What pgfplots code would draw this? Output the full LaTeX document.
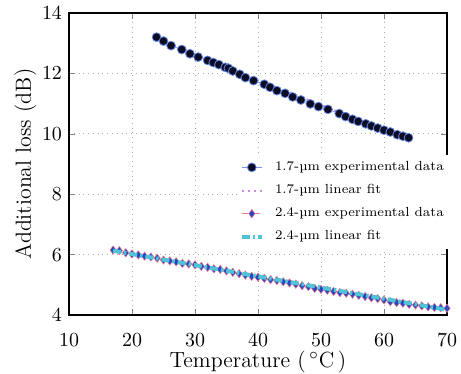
\documentclass[border=0pt]{standalone}
\usepackage{fontspec}
\usepackage{pgfplots}
\pgfplotsset{compat=1.18}
\pgfplotsset{layers/mylayers/.define layer set={axis background,axis grid,axis tick labels,pre main,main,axis descriptions,axis ticks,axis lines,axis foreground}{}}
\definecolor{c17line}{RGB}{120,150,230}
\definecolor{c17fill}{RGB}{12,12,35}
\definecolor{c17edge}{RGB}{100,135,230}
\definecolor{c17fit}{RGB}{205,140,215}
\definecolor{c24line}{RGB}{245,120,135}
\definecolor{c24fill}{RGB}{40,70,195}
\definecolor{c24fit}{RGB}{80,195,215}
\pgfplotstableread{
x y
23.9 13.20
25.0 13.07
26.2 12.92
27.9 12.79
29.2 12.65
30.5 12.54
32.0 12.43
32.9 12.36
33.8 12.29
34.8 12.20
35.3 12.17
36.0 12.08
37.1 11.97
38.0 11.86
39.3 11.76
41.0 11.64
41.9 11.54
43.0 11.43
44.3 11.34
45.5 11.22
46.8 11.12
48.3 10.99
49.6 10.90
51.1 10.81
52.9 10.67
53.9 10.57
55.0 10.48
55.9 10.41
57.1 10.33
58.0 10.26
59.0 10.19
60.0 10.12
61.0 10.06
62.1 9.97
63.0 9.92
63.9 9.87
}\dataA
\pgfplotstableread{
x y
17 6.15
18 6.13
19 6.06
20 6.02
21 5.99
22 5.95
23 5.92
24 5.88
25 5.82
26 5.79
27 5.76
28 5.71
29 5.69
30 5.66
31 5.61
32 5.58
33 5.53
34 5.51
35 5.46
36 5.41
37 5.37
38 5.32
39 5.28
40 5.25
41 5.21
42 5.17
43 5.14
44 5.10
45 5.06
46 5.02
47 4.97
48 4.94
49 4.88
50 4.85
51 4.82
52 4.78
53 4.74
54 4.72
55 4.69
56 4.65
57 4.61
58 4.57
59 4.54
60 4.50
61 4.44
62 4.41
63 4.39
64 4.35
65 4.33
66 4.30
67 4.27
68 4.25
69 4.24
70 4.22
}\dataB
\begin{document}
\begin{tikzpicture}
\begin{axis}[
  set layers=mylayers,
  scale only axis, width=189bp, height=151bp,
  xmin=10, xmax=70, ymin=4, ymax=14,
  xtick={10,20,...,70}, ytick={4,6,...,14},
  tick align=inside, major tick length=3bp,
  grid=major, grid style={dotted, gray!65, line width=0.5pt},
  axis line style={line width=0.7pt},
  xlabel={Temperature (\,$^{\circ}$C\,)},
  ylabel={Additional loss (dB)},
  label style={font=\fontsize{11}{13}\selectfont},
  tick label style={font=\fontsize{10}{12}\selectfont},
  xticklabel style={yshift=-6bp},
  xlabel style={at={(axis description cs:0.5,-0.156)}, anchor=center, inner sep=0pt},
  ylabel style={yshift=-4bp},
  legend style={at={(0.445,0.53)}, anchor=north west, draw=none, fill=white,
    font=\fontsize{6.6}{8}\selectfont, row sep=1.5bp, inner sep=1bp,
    /tikz/every odd column/.append style={column sep=3.5bp}},
  legend cell align=left,
  legend image code/.code={\draw[mark repeat=2,mark phase=2] plot coordinates {(0cm,0cm) (0.18cm,0cm) (0.36cm,0cm)};},
]
\coordinate (SW) at (rel axis cs:0,0);
\addplot[c17line, line width=0.4pt, mark=*, mark size=2.2bp,
  mark options={fill=c17fill, draw=c17edge, line width=0.4pt, solid}] table[x=x,y=y] {\dataA};
\addlegendentry{1.7-µm experimental data}
\addplot[c17fit, dotted, line width=1.0pt] coordinates {(23.9,13.12) (63.9,9.80)};
\addlegendentry{1.7-µm linear fit}
\addplot[c24line, dashed, line width=0.4pt, mark=diamond*, mark size=2.1bp,
  mark options={fill=c24fill, draw=c24line, line width=0.25pt, solid}] table[x=x,y=y] {\dataB};
\addlegendentry{2.4-µm experimental data}
\addplot[c24fit, dash pattern=on 4bp off 1.5bp on 1.2bp off 1.5bp, line width=2bp, on layer=axis foreground] coordinates {(17,6.13) (70,4.17)};
\addlegendentry{2.4-µm linear fit}
\end{axis}
\pgfresetboundingbox
\path (SW) ++(-34.5bp,-29.5bp) rectangle ++(230.5bp,187bp);
\end{tikzpicture}
\end{document}
